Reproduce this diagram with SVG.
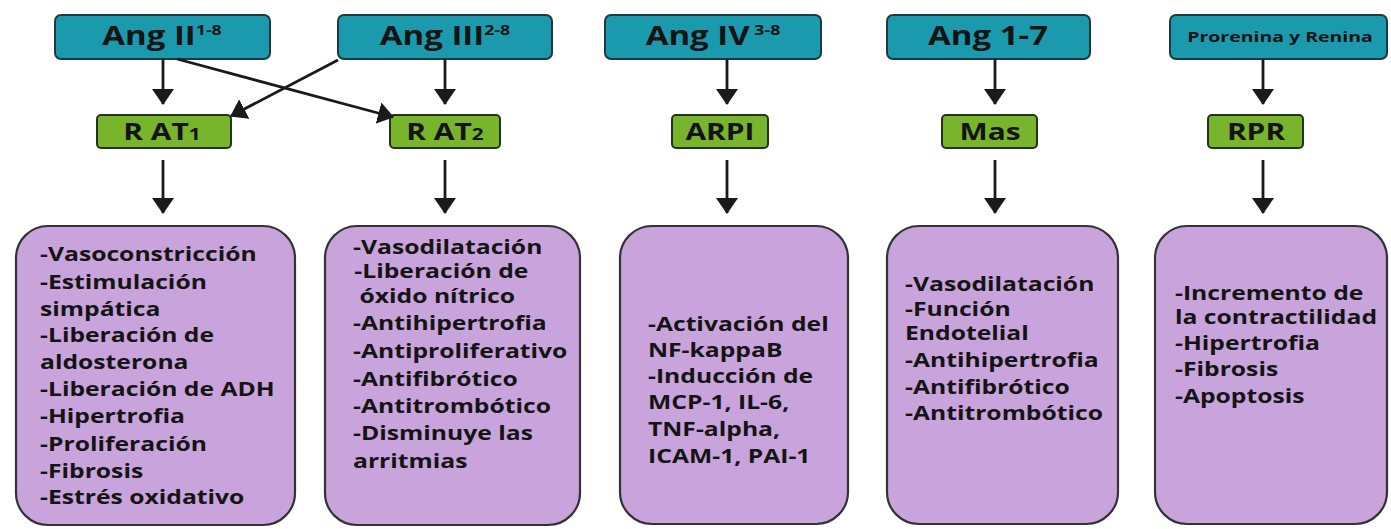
<svg xmlns="http://www.w3.org/2000/svg" width="1391" height="529" viewBox="0 0 1391 529">
<style>
.top{fill:#1b9aad;stroke:#1e3a40;stroke-width:2}
.rec{fill:#78b52c;stroke:#24341a;stroke-width:2}
.eff{fill:#c9a4dc;stroke:#333;stroke-width:2.2}
text{font-family:"Open Sans","Noto Sans","DejaVu Sans",sans-serif;font-weight:bold;fill:#141414}
.tl{font-size:26px;text-anchor:middle}
.sup{font-size:14px}
.rl{font-size:23px;text-anchor:middle}
.sub{font-size:16px}
.bt{font-size:19px}
.conn line{stroke:#1a1a1a;stroke-width:2.8;marker-end:url(#ah)}
</style>
<defs>
<marker id="ah" markerUnits="userSpaceOnUse" viewBox="0 0 16 22" refX="15" refY="11" markerWidth="16" markerHeight="22" orient="auto">
<path d="M0,0 L16,11 L0,22 z" fill="#1a1a1a"/>
</marker>
</defs>
<rect width="1391" height="529" fill="#fff"/>

<g id="angII"><rect class="top" x="55" y="15" width="215" height="44" rx="6"/>
<text class="tl" transform="translate(162,45) scale(1.27,1)">Ang II<tspan class="sup" dy="-10">1-8</tspan></text></g>
<g id="angIII"><rect class="top" x="338" y="15" width="214" height="44" rx="6"/>
<text class="tl" transform="translate(445,45) scale(1.27,1)">Ang III<tspan class="sup" dy="-10">2-8</tspan></text></g>
<g id="angIV"><rect class="top" x="605" y="15" width="216" height="44" rx="6"/>
<text class="tl" transform="translate(713,45) scale(1.27,1)">Ang IV<tspan class="sup" dy="-10"> 3-8</tspan></text></g>
<g id="ang17"><rect class="top" x="887" y="15" width="203" height="44" rx="6"/>
<text class="tl" transform="translate(988,45) scale(1.27,1)">Ang 1-7</text></g>
<g id="prorenina"><rect class="top" x="1170" y="15" width="217" height="44" rx="6"/>
<text class="tl" style="font-size:15px" transform="translate(1280,42) scale(1.3,1)">Prorenina y Renina</text></g>

<g id="rat1"><rect class="rec" x="97" y="115" width="134" height="33" rx="4"/>
<text class="rl" transform="translate(162,140) scale(1.3,1)">R AT<tspan class="sub">1</tspan></text></g>
<g id="rat2"><rect class="rec" x="390" y="115" width="110" height="33" rx="4"/>
<text class="rl" transform="translate(445,140) scale(1.3,1)">R AT<tspan class="sub">2</tspan></text></g>
<g id="arpi"><rect class="rec" x="672" y="115" width="96" height="33" rx="4"/>
<text class="rl" transform="translate(720,140) scale(1.3,1)">ARPI</text></g>
<g id="mas"><rect class="rec" x="942" y="115" width="95" height="33" rx="4"/>
<text class="rl" transform="translate(990,140) scale(1.3,1)">Mas</text></g>
<g id="rpr"><rect class="rec" x="1208" y="115" width="95" height="33" rx="4"/>
<text class="rl" transform="translate(1256,140) scale(1.3,1)">RPR</text></g>

<g id="eff1"><rect class="eff" x="16" y="226" width="279" height="299" rx="32"/>
<g transform="translate(40,0) scale(1.3,1)">
<text class="bt" y="261">-Vasoconstricción</text>
<text class="bt" y="289">-Estimulación</text>
<text class="bt" y="316">simpática</text>
<text class="bt" y="342">-Liberación de</text>
<text class="bt" y="369">aldosterona</text>
<text class="bt" y="396">-Liberación de ADH</text>
<text class="bt" y="423">-Hipertrofia</text>
<text class="bt" y="451">-Proliferación</text>
<text class="bt" y="478">-Fibrosis</text>
<text class="bt" y="504">-Estrés oxidativo</text>
</g></g>

<g id="eff2"><rect class="eff" x="325" y="226" width="255" height="299" rx="32"/>
<g transform="translate(353,0) scale(1.3,1)">
<text class="bt" y="254">-Vasodilatación</text>
<text class="bt" y="278" x="1">-Liberación de</text>
<text class="bt" y="303" x="5">óxido nítrico</text>
<text class="bt" y="330">-Antihipertrofia</text>
<text class="bt" y="358">-Antiproliferativo</text>
<text class="bt" y="386">-Antifibrótico</text>
<text class="bt" y="413">-Antitrombótico</text>
<text class="bt" y="440">-Disminuye las</text>
<text class="bt" y="468">arritmias</text>
</g></g>

<g id="eff3"><rect class="eff" x="620" y="226" width="228" height="298" rx="32"/>
<g transform="translate(648,0) scale(1.3,1)">
<text class="bt" y="331">-Activación del</text>
<text class="bt" y="357">NF-kappaB</text>
<text class="bt" y="383">-Inducción de</text>
<text class="bt" y="409">MCP-1, IL-6,</text>
<text class="bt" y="436">TNF-alpha,</text>
<text class="bt" y="463">ICAM-1, PAI-1</text>
</g></g>

<g id="eff4"><rect class="eff" x="887" y="226" width="231" height="298" rx="32"/>
<g transform="translate(905,0) scale(1.3,1)">
<text class="bt" y="291">-Vasodilatación</text>
<text class="bt" y="316">-Función</text>
<text class="bt" y="340">Endotelial</text>
<text class="bt" y="367">-Antihipertrofia</text>
<text class="bt" y="394">-Antifibrótico</text>
<text class="bt" y="420">-Antitrombótico</text>
</g></g>

<g id="eff5"><rect class="eff" x="1155" y="226" width="232" height="298" rx="32"/>
<g transform="translate(1175,0) scale(1.3,1)">
<text class="bt" y="300">-Incremento de</text>
<text class="bt" y="324">la contractilidad</text>
<text class="bt" y="350">-Hipertrofia</text>
<text class="bt" y="376">-Fibrosis</text>
<text class="bt" y="403">-Apoptosis</text>
</g></g>

<g id="connectors" class="conn">
<line x1="163" y1="59" x2="163" y2="104"/>
<line x1="445" y1="59" x2="445" y2="104"/>
<line x1="177" y1="59" x2="393" y2="117"/>
<line x1="338" y1="60" x2="231" y2="116"/>
<line x1="727" y1="59" x2="727" y2="104"/>
<line x1="995" y1="59" x2="995" y2="104"/>
<line x1="1263" y1="59" x2="1263" y2="104"/>
<line x1="163" y1="160" x2="163" y2="213"/>
<line x1="445" y1="160" x2="445" y2="213"/>
<line x1="727" y1="160" x2="727" y2="213"/>
<line x1="995" y1="160" x2="995" y2="213"/>
<line x1="1263" y1="160" x2="1263" y2="213"/>
</g>
</svg>
